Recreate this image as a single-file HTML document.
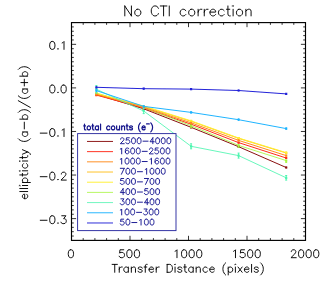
<!DOCTYPE html>
<html><head><meta charset="utf-8"><title>No CTI correction</title>
<style>html,body{margin:0;padding:0;background:#fff;}body{width:327px;height:286px;overflow:hidden;}svg{display:block;}</style></head><body>
<svg width="327" height="286" viewBox="0 0 327 286">
<rect x="0" y="0" width="327" height="286" fill="#ffffff"/>
<defs><filter id="soft" x="0" y="0" width="327" height="286" filterUnits="userSpaceOnUse"><feGaussianBlur stdDeviation="0.36"/></filter></defs>
<g filter="url(#soft)">
<g fill="none" stroke-width="1.0" stroke-linejoin="round">
<polyline points="96.4,94.4 143.7,108.8 191.1,127.3 238.6,146.7 286.2,167.5" stroke="#8a1010"/>
<path d="M96.4 93.8V95.0M143.7 108.2V109.4M191.1 126.5V128.1M238.6 145.9V147.5M286.2 166.5V168.5" stroke="#8a1010" stroke-width="1.0"/>
<path d="M95.3 93.3h2.2v2.2h-2.2zM142.6 107.7h2.2v2.2h-2.2zM190.0 126.2h2.2v2.2h-2.2zM237.5 145.6h2.2v2.2h-2.2zM285.1 166.4h2.2v2.2h-2.2z" fill="#8a1010" stroke="none"/>
<polyline points="96.4,95.1 143.7,108.0 191.1,124.2 238.6,142.6 286.2,158.0" stroke="#ff2a1a"/>
<path d="M96.4 94.6V95.6M143.7 107.5V108.5M191.1 123.6V124.8M238.6 141.8V143.4M286.2 157.0V159.0" stroke="#ff2a1a" stroke-width="1.0"/>
<path d="M95.3 94.0h2.2v2.2h-2.2zM142.6 106.9h2.2v2.2h-2.2zM190.0 123.1h2.2v2.2h-2.2zM237.5 141.5h2.2v2.2h-2.2zM285.1 156.9h2.2v2.2h-2.2z" fill="#ff2a1a" stroke="none"/>
<polyline points="96.4,93.0 143.7,107.4 191.1,125.7 238.6,145.4 286.2,160.6" stroke="#a6f53c" stroke-width="0.85"/>
<path d="M96.4 92.2V93.8M143.7 106.4V108.4M191.1 124.8V127.7M190.1 127.7h2M238.6 144.5V147.3M237.6 147.3h2M286.2 159.7V162.4M285.2 162.4h2" stroke="#a6f53c" stroke-width="1.0"/>
<path d="M95.3 91.9h2.2v2.2h-2.2zM142.6 106.3h2.2v2.2h-2.2zM190.0 124.6h2.2v2.2h-2.2zM237.5 144.3h2.2v2.2h-2.2zM285.1 159.5h2.2v2.2h-2.2z" fill="#a6f53c" stroke="none"/>
<polyline points="96.4,93.9 143.7,106.5 191.1,121.3 238.6,138.4 286.2,153.0" stroke="#ffc020"/>
<path d="M96.4 93.4V94.4M143.7 106.0V107.0M191.1 120.7V121.9M238.6 137.6V139.2M286.2 152.0V154.0" stroke="#ffc020" stroke-width="1.0"/>
<path d="M95.3 92.8h2.2v2.2h-2.2zM142.6 105.4h2.2v2.2h-2.2zM190.0 120.2h2.2v2.2h-2.2zM237.5 137.3h2.2v2.2h-2.2zM285.1 151.9h2.2v2.2h-2.2z" fill="#ffc020" stroke="none"/>
<polyline points="96.4,93.5 143.7,106.0 191.1,120.8 238.6,138.0 286.2,152.6" stroke="#fff030"/>
<path d="M96.4 93.0V94.0M143.7 105.5V106.5M191.1 120.0V121.6M238.6 137.0V139.0M286.2 151.4V153.8" stroke="#fff030" stroke-width="1.0"/>
<path d="M95.3 92.4h2.2v2.2h-2.2zM142.6 104.9h2.2v2.2h-2.2zM190.0 119.7h2.2v2.2h-2.2zM237.5 136.9h2.2v2.2h-2.2zM285.1 151.5h2.2v2.2h-2.2z" fill="#fff030" stroke="none"/>
<polyline points="96.4,94.4 143.7,107.3 191.1,122.8 238.6,140.4 286.2,155.6" stroke="#ff8a1a"/>
<path d="M96.4 93.9V94.9M143.7 106.8V107.8M191.1 122.2V123.4M238.6 139.6V141.2M286.2 154.6V156.6" stroke="#ff8a1a" stroke-width="1.0"/>
<path d="M95.3 93.3h2.2v2.2h-2.2zM142.6 106.2h2.2v2.2h-2.2zM190.0 121.7h2.2v2.2h-2.2zM237.5 139.3h2.2v2.2h-2.2zM285.1 154.5h2.2v2.2h-2.2z" fill="#ff8a1a" stroke="none"/>
<polyline points="96.4,89.3 143.7,111.0 191.1,146.3 238.6,155.6 286.2,177.8" stroke="#4df5b0" stroke-width="0.85"/>
<path d="M96.4 85.5V93.1M95.4 93.1h2M95.4 85.5h2M143.7 108.4V113.6M142.7 113.6h2M142.7 108.4h2M191.1 143.8V148.8M190.1 148.8h2M190.1 143.8h2M238.6 153.1V158.1M237.6 158.1h2M237.6 153.1h2M286.2 175.5V180.1M285.2 180.1h2M285.2 175.5h2" stroke="#4df5b0" stroke-width="1.0"/>
<path d="M95.3 88.2h2.2v2.2h-2.2zM142.6 109.9h2.2v2.2h-2.2zM190.0 145.2h2.2v2.2h-2.2zM237.5 154.5h2.2v2.2h-2.2zM285.1 176.7h2.2v2.2h-2.2z" fill="#4df5b0" stroke="none"/>
<polyline points="96.4,90.6 143.7,106.4 191.1,112.4 238.6,119.7 286.2,128.6" stroke="#1fb4ff"/>
<path d="M96.4 89.2V92.0M143.7 105.0V107.8M191.1 111.2V113.6M238.6 118.5V120.9M286.2 127.2V130.0" stroke="#1fb4ff" stroke-width="1.0"/>
<path d="M95.3 89.5h2.2v2.2h-2.2zM142.6 105.3h2.2v2.2h-2.2zM190.0 111.3h2.2v2.2h-2.2zM237.5 118.6h2.2v2.2h-2.2zM285.1 127.5h2.2v2.2h-2.2z" fill="#1fb4ff" stroke="none"/>
<polyline points="96.4,87.3 143.7,88.7 191.1,89.1 238.6,90.5 286.2,93.9" stroke="#2222d8"/>
<path d="M96.4 86.5V88.1M143.7 87.9V89.5M191.1 88.3V89.9M238.6 89.7V91.3M286.2 93.1V94.7" stroke="#2222d8" stroke-width="1.0"/>
<path d="M95.3 86.2h2.2v2.2h-2.2zM142.6 87.6h2.2v2.2h-2.2zM190.0 88.0h2.2v2.2h-2.2zM237.5 89.4h2.2v2.2h-2.2zM285.1 92.8h2.2v2.2h-2.2z" fill="#2222d8" stroke="none"/>
</g>
<rect x="77.6" y="133.6" width="98.4" height="97.0" fill="#ffffff" stroke="#2c2ca0" stroke-width="0.95"/>
<g fill="none" stroke="#1a1a92" stroke-width="0.98" stroke-linecap="round" stroke-linejoin="round">
<path d="M84.49 124.01L84.49 128.78L84.75 129.62L85.28 129.90L85.81 129.90M83.70 125.97L85.55 125.97M88.45 125.97L87.92 126.25L87.39 126.81L87.13 127.66L87.13 128.22L87.39 129.06L87.92 129.62L88.45 129.90L89.24 129.90L89.76 129.62L90.29 129.06L90.56 128.22L90.56 127.66L90.29 126.81L89.76 126.25L89.24 125.97L88.45 125.97M92.66 124.01L92.66 128.78L92.93 129.62L93.46 129.90L93.98 129.90M91.87 125.97L93.72 125.97M98.47 125.97L98.47 129.90M98.47 126.81L97.94 126.25L97.41 125.97L96.62 125.97L96.09 126.25L95.57 126.81L95.30 127.66L95.30 128.22L95.57 129.06L96.09 129.62L96.62 129.90L97.41 129.90L97.94 129.62L98.47 129.06M100.57 124.01L100.57 129.90M109.80 126.81L109.28 126.25L108.75 125.97L107.96 125.97L107.43 126.25L106.90 126.81L106.64 127.66L106.64 128.22L106.90 129.06L107.43 129.62L107.96 129.90L108.75 129.90L109.28 129.62L109.80 129.06M112.70 125.97L112.18 126.25L111.65 126.81L111.39 127.66L111.39 128.22L111.65 129.06L112.18 129.62L112.70 129.90L113.49 129.90L114.02 129.62L114.55 129.06L114.81 128.22L114.81 127.66L114.55 126.81L114.02 126.25L113.49 125.97L112.70 125.97M116.66 125.97L116.66 128.78L116.92 129.62L117.45 129.90L118.24 129.90L118.77 129.62L119.56 128.78M119.56 125.97L119.56 129.90M121.67 125.97L121.67 129.90M121.67 127.09L122.46 126.25L122.99 125.97L123.78 125.97L124.31 126.25L124.57 127.09L124.57 129.90M126.94 124.01L126.94 128.78L127.21 129.62L127.73 129.90L128.26 129.90M126.15 125.97L128.00 125.97M132.48 126.81L132.22 126.25L131.42 125.97L130.63 125.97L129.84 126.25L129.58 126.81L129.84 127.38L130.37 127.66L131.69 127.94L132.22 128.22L132.48 128.78L132.48 129.06L132.22 129.62L131.42 129.90L130.63 129.90L129.84 129.62L129.58 129.06M140.39 122.89L139.86 123.45L139.33 124.29L138.81 125.41L138.54 126.81L138.54 127.94L138.81 129.34L139.33 130.46L139.86 131.30L140.39 131.86M141.97 127.66L145.14 127.66L145.14 127.09L144.87 126.53L144.61 126.25L144.08 125.97L143.29 125.97L142.76 126.25L142.23 126.81L141.97 127.66L141.97 128.22L142.23 129.06L142.76 129.62L143.29 129.90L144.08 129.90L144.61 129.62L145.14 129.06M146.54 123.95L149.29 123.95M150.69 122.89L151.22 123.45L151.75 124.29L152.28 125.41L152.54 126.81L152.54 127.94L152.28 129.34L151.75 130.46L151.22 131.30L150.69 131.86" stroke="#12128a" stroke-width="1.2"/>
<path d="M87 141.45H113" stroke="#8a1010" stroke-width="0.95" stroke-linecap="butt"/>
<path d="M120.58 139.21L120.58 138.93L120.86 138.37L121.14 138.09L121.70 137.81L122.82 137.81L123.39 138.09L123.67 138.37L123.95 138.93L123.95 139.49L123.67 140.05L123.11 140.89L120.30 143.70L124.23 143.70M129.28 137.81L126.47 137.81L126.19 140.33L126.47 140.05L127.31 139.77L128.15 139.77L129.00 140.05L129.56 140.61L129.84 141.46L129.84 142.02L129.56 142.86L129.00 143.42L128.15 143.70L127.31 143.70L126.47 143.42L126.19 143.14L125.91 142.58M133.20 137.81L132.36 138.09L131.80 138.93L131.52 140.33L131.52 141.18L131.80 142.58L132.36 143.42L133.20 143.70L133.76 143.70L134.61 143.42L135.17 142.58L135.45 141.18L135.45 140.33L135.17 138.93L134.61 138.09L133.76 137.81L133.20 137.81M138.81 137.81L137.97 138.09L137.41 138.93L137.13 140.33L137.13 141.18L137.41 142.58L137.97 143.42L138.81 143.70L139.37 143.70L140.22 143.42L140.78 142.58L141.06 141.18L141.06 140.33L140.78 138.93L140.22 138.09L139.37 137.81L138.81 137.81M143.02 141.18L148.07 141.18M152.84 137.81L150.03 141.74L154.24 141.74M152.84 137.81L152.84 143.70M157.33 137.81L156.48 138.09L155.92 138.93L155.64 140.33L155.64 141.18L155.92 142.58L156.48 143.42L157.33 143.70L157.89 143.70L158.73 143.42L159.29 142.58L159.57 141.18L159.57 140.33L159.29 138.93L158.73 138.09L157.89 137.81L157.33 137.81M162.94 137.81L162.09 138.09L161.53 138.93L161.25 140.33L161.25 141.18L161.53 142.58L162.09 143.42L162.94 143.70L163.50 143.70L164.34 143.42L164.90 142.58L165.18 141.18L165.18 140.33L164.90 138.93L164.34 138.09L163.50 137.81L162.94 137.81M168.55 137.81L167.70 138.09L167.14 138.93L166.86 140.33L166.86 141.18L167.14 142.58L167.70 143.42L168.55 143.70L169.11 143.70L169.95 143.42L170.51 142.58L170.79 141.18L170.79 140.33L170.51 138.93L169.95 138.09L169.11 137.81L168.55 137.81"/>
<path d="M87 151.64H113" stroke="#ff2a1a" stroke-width="0.95" stroke-linecap="butt"/>
<path d="M120.30 149.10L120.86 148.82L121.70 147.98L121.70 153.87M128.72 148.82L128.43 148.26L127.59 147.98L127.03 147.98L126.19 148.26L125.63 149.10L125.35 150.50L125.35 151.91L125.63 153.03L126.19 153.59L127.03 153.87L127.31 153.87L128.15 153.59L128.72 153.03L129.00 152.19L129.00 151.91L128.72 151.06L128.15 150.50L127.31 150.22L127.03 150.22L126.19 150.50L125.63 151.06L125.35 151.91M132.36 147.98L131.52 148.26L130.96 149.10L130.68 150.50L130.68 151.35L130.96 152.75L131.52 153.59L132.36 153.87L132.92 153.87L133.76 153.59L134.32 152.75L134.61 151.35L134.61 150.50L134.32 149.10L133.76 148.26L132.92 147.98L132.36 147.98M137.97 147.98L137.13 148.26L136.57 149.10L136.29 150.50L136.29 151.35L136.57 152.75L137.13 153.59L137.97 153.87L138.53 153.87L139.37 153.59L139.94 152.75L140.22 151.35L140.22 150.50L139.94 149.10L139.37 148.26L138.53 147.98L137.97 147.98M142.18 151.35L147.23 151.35M149.47 149.38L149.47 149.10L149.75 148.54L150.03 148.26L150.59 147.98L151.72 147.98L152.28 148.26L152.56 148.54L152.84 149.10L152.84 149.66L152.56 150.22L152.00 151.06L149.19 153.87L153.12 153.87M158.17 147.98L155.36 147.98L155.08 150.50L155.36 150.22L156.20 149.94L157.05 149.94L157.89 150.22L158.45 150.78L158.73 151.63L158.73 152.19L158.45 153.03L157.89 153.59L157.05 153.87L156.20 153.87L155.36 153.59L155.08 153.31L154.80 152.75M162.09 147.98L161.25 148.26L160.69 149.10L160.41 150.50L160.41 151.35L160.69 152.75L161.25 153.59L162.09 153.87L162.66 153.87L163.50 153.59L164.06 152.75L164.34 151.35L164.34 150.50L164.06 149.10L163.50 148.26L162.66 147.98L162.09 147.98M167.70 147.98L166.86 148.26L166.30 149.10L166.02 150.50L166.02 151.35L166.30 152.75L166.86 153.59L167.70 153.87L168.27 153.87L169.11 153.59L169.67 152.75L169.95 151.35L169.95 150.50L169.67 149.10L169.11 148.26L168.27 147.98L167.70 147.98"/>
<path d="M87 161.83H113" stroke="#ff8a1a" stroke-width="0.95" stroke-linecap="butt"/>
<path d="M120.30 159.27L120.86 158.99L121.70 158.15L121.70 164.04M126.75 158.15L125.91 158.43L125.35 159.27L125.07 160.67L125.07 161.52L125.35 162.92L125.91 163.76L126.75 164.04L127.31 164.04L128.15 163.76L128.72 162.92L129.00 161.52L129.00 160.67L128.72 159.27L128.15 158.43L127.31 158.15L126.75 158.15M132.36 158.15L131.52 158.43L130.96 159.27L130.68 160.67L130.68 161.52L130.96 162.92L131.52 163.76L132.36 164.04L132.92 164.04L133.76 163.76L134.32 162.92L134.61 161.52L134.61 160.67L134.32 159.27L133.76 158.43L132.92 158.15L132.36 158.15M137.97 158.15L137.13 158.43L136.57 159.27L136.29 160.67L136.29 161.52L136.57 162.92L137.13 163.76L137.97 164.04L138.53 164.04L139.37 163.76L139.94 162.92L140.22 161.52L140.22 160.67L139.94 159.27L139.37 158.43L138.53 158.15L137.97 158.15M142.18 161.52L147.23 161.52M150.03 159.27L150.59 158.99L151.44 158.15L151.44 164.04M158.45 158.99L158.17 158.43L157.33 158.15L156.76 158.15L155.92 158.43L155.36 159.27L155.08 160.67L155.08 162.08L155.36 163.20L155.92 163.76L156.76 164.04L157.05 164.04L157.89 163.76L158.45 163.20L158.73 162.36L158.73 162.08L158.45 161.23L157.89 160.67L157.05 160.39L156.76 160.39L155.92 160.67L155.36 161.23L155.08 162.08M162.09 158.15L161.25 158.43L160.69 159.27L160.41 160.67L160.41 161.52L160.69 162.92L161.25 163.76L162.09 164.04L162.66 164.04L163.50 163.76L164.06 162.92L164.34 161.52L164.34 160.67L164.06 159.27L163.50 158.43L162.66 158.15L162.09 158.15M167.70 158.15L166.86 158.43L166.30 159.27L166.02 160.67L166.02 161.52L166.30 162.92L166.86 163.76L167.70 164.04L168.27 164.04L169.11 163.76L169.67 162.92L169.95 161.52L169.95 160.67L169.67 159.27L169.11 158.43L168.27 158.15L167.70 158.15"/>
<path d="M87 172.02H113" stroke="#ffc020" stroke-width="0.95" stroke-linecap="butt"/>
<path d="M124.23 168.32L121.42 174.21M120.30 168.32L124.23 168.32M127.59 168.32L126.75 168.60L126.19 169.44L125.91 170.84L125.91 171.69L126.19 173.09L126.75 173.93L127.59 174.21L128.15 174.21L129.00 173.93L129.56 173.09L129.84 171.69L129.84 170.84L129.56 169.44L129.00 168.60L128.15 168.32L127.59 168.32M133.20 168.32L132.36 168.60L131.80 169.44L131.52 170.84L131.52 171.69L131.80 173.09L132.36 173.93L133.20 174.21L133.76 174.21L134.61 173.93L135.17 173.09L135.45 171.69L135.45 170.84L135.17 169.44L134.61 168.60L133.76 168.32L133.20 168.32M137.41 171.69L142.46 171.69M145.26 169.44L145.83 169.16L146.67 168.32L146.67 174.21M151.72 168.32L150.87 168.60L150.31 169.44L150.03 170.84L150.03 171.69L150.31 173.09L150.87 173.93L151.72 174.21L152.28 174.21L153.12 173.93L153.68 173.09L153.96 171.69L153.96 170.84L153.68 169.44L153.12 168.60L152.28 168.32L151.72 168.32M157.33 168.32L156.48 168.60L155.92 169.44L155.64 170.84L155.64 171.69L155.92 173.09L156.48 173.93L157.33 174.21L157.89 174.21L158.73 173.93L159.29 173.09L159.57 171.69L159.57 170.84L159.29 169.44L158.73 168.60L157.89 168.32L157.33 168.32M162.94 168.32L162.09 168.60L161.53 169.44L161.25 170.84L161.25 171.69L161.53 173.09L162.09 173.93L162.94 174.21L163.50 174.21L164.34 173.93L164.90 173.09L165.18 171.69L165.18 170.84L164.90 169.44L164.34 168.60L163.50 168.32L162.94 168.32"/>
<path d="M87 182.21H113" stroke="#fff030" stroke-width="0.95" stroke-linecap="butt"/>
<path d="M123.67 178.49L120.86 178.49L120.58 181.01L120.86 180.73L121.70 180.45L122.54 180.45L123.39 180.73L123.95 181.29L124.23 182.14L124.23 182.70L123.95 183.54L123.39 184.10L122.54 184.38L121.70 184.38L120.86 184.10L120.58 183.82L120.30 183.26M127.59 178.49L126.75 178.77L126.19 179.61L125.91 181.01L125.91 181.86L126.19 183.26L126.75 184.10L127.59 184.38L128.15 184.38L129.00 184.10L129.56 183.26L129.84 181.86L129.84 181.01L129.56 179.61L129.00 178.77L128.15 178.49L127.59 178.49M133.20 178.49L132.36 178.77L131.80 179.61L131.52 181.01L131.52 181.86L131.80 183.26L132.36 184.10L133.20 184.38L133.76 184.38L134.61 184.10L135.17 183.26L135.45 181.86L135.45 181.01L135.17 179.61L134.61 178.77L133.76 178.49L133.20 178.49M137.41 181.86L142.46 181.86M148.35 178.49L145.54 184.38M144.42 178.49L148.35 178.49M151.72 178.49L150.87 178.77L150.31 179.61L150.03 181.01L150.03 181.86L150.31 183.26L150.87 184.10L151.72 184.38L152.28 184.38L153.12 184.10L153.68 183.26L153.96 181.86L153.96 181.01L153.68 179.61L153.12 178.77L152.28 178.49L151.72 178.49M157.33 178.49L156.48 178.77L155.92 179.61L155.64 181.01L155.64 181.86L155.92 183.26L156.48 184.10L157.33 184.38L157.89 184.38L158.73 184.10L159.29 183.26L159.57 181.86L159.57 181.01L159.29 179.61L158.73 178.77L157.89 178.49L157.33 178.49"/>
<path d="M87 192.40H113" stroke="#a6f53c" stroke-width="0.8" stroke-linecap="butt"/>
<path d="M123.11 188.66L120.30 192.59L124.51 192.59M123.11 188.66L123.11 194.55M127.59 188.66L126.75 188.94L126.19 189.78L125.91 191.18L125.91 192.03L126.19 193.43L126.75 194.27L127.59 194.55L128.15 194.55L129.00 194.27L129.56 193.43L129.84 192.03L129.84 191.18L129.56 189.78L129.00 188.94L128.15 188.66L127.59 188.66M133.20 188.66L132.36 188.94L131.80 189.78L131.52 191.18L131.52 192.03L131.80 193.43L132.36 194.27L133.20 194.55L133.76 194.55L134.61 194.27L135.17 193.43L135.45 192.03L135.45 191.18L135.17 189.78L134.61 188.94L133.76 188.66L133.20 188.66M137.41 192.03L142.46 192.03M147.79 188.66L144.98 188.66L144.70 191.18L144.98 190.90L145.83 190.62L146.67 190.62L147.51 190.90L148.07 191.46L148.35 192.31L148.35 192.87L148.07 193.71L147.51 194.27L146.67 194.55L145.83 194.55L144.98 194.27L144.70 193.99L144.42 193.43M151.72 188.66L150.87 188.94L150.31 189.78L150.03 191.18L150.03 192.03L150.31 193.43L150.87 194.27L151.72 194.55L152.28 194.55L153.12 194.27L153.68 193.43L153.96 192.03L153.96 191.18L153.68 189.78L153.12 188.94L152.28 188.66L151.72 188.66M157.33 188.66L156.48 188.94L155.92 189.78L155.64 191.18L155.64 192.03L155.92 193.43L156.48 194.27L157.33 194.55L157.89 194.55L158.73 194.27L159.29 193.43L159.57 192.03L159.57 191.18L159.29 189.78L158.73 188.94L157.89 188.66L157.33 188.66"/>
<path d="M87 202.59H113" stroke="#4df5b0" stroke-width="0.8" stroke-linecap="butt"/>
<path d="M120.86 198.83L123.95 198.83L122.26 201.07L123.11 201.07L123.67 201.35L123.95 201.63L124.23 202.48L124.23 203.04L123.95 203.88L123.39 204.44L122.54 204.72L121.70 204.72L120.86 204.44L120.58 204.16L120.30 203.60M127.59 198.83L126.75 199.11L126.19 199.95L125.91 201.35L125.91 202.20L126.19 203.60L126.75 204.44L127.59 204.72L128.15 204.72L129.00 204.44L129.56 203.60L129.84 202.20L129.84 201.35L129.56 199.95L129.00 199.11L128.15 198.83L127.59 198.83M133.20 198.83L132.36 199.11L131.80 199.95L131.52 201.35L131.52 202.20L131.80 203.60L132.36 204.44L133.20 204.72L133.76 204.72L134.61 204.44L135.17 203.60L135.45 202.20L135.45 201.35L135.17 199.95L134.61 199.11L133.76 198.83L133.20 198.83M137.41 202.20L142.46 202.20M147.23 198.83L144.42 202.76L148.63 202.76M147.23 198.83L147.23 204.72M151.72 198.83L150.87 199.11L150.31 199.95L150.03 201.35L150.03 202.20L150.31 203.60L150.87 204.44L151.72 204.72L152.28 204.72L153.12 204.44L153.68 203.60L153.96 202.20L153.96 201.35L153.68 199.95L153.12 199.11L152.28 198.83L151.72 198.83M157.33 198.83L156.48 199.11L155.92 199.95L155.64 201.35L155.64 202.20L155.92 203.60L156.48 204.44L157.33 204.72L157.89 204.72L158.73 204.44L159.29 203.60L159.57 202.20L159.57 201.35L159.29 199.95L158.73 199.11L157.89 198.83L157.33 198.83"/>
<path d="M87 212.78H113" stroke="#1fb4ff" stroke-width="0.95" stroke-linecap="butt"/>
<path d="M120.30 210.12L120.86 209.84L121.70 209.00L121.70 214.89M126.75 209.00L125.91 209.28L125.35 210.12L125.07 211.52L125.07 212.37L125.35 213.77L125.91 214.61L126.75 214.89L127.31 214.89L128.15 214.61L128.72 213.77L129.00 212.37L129.00 211.52L128.72 210.12L128.15 209.28L127.31 209.00L126.75 209.00M132.36 209.00L131.52 209.28L130.96 210.12L130.68 211.52L130.68 212.37L130.96 213.77L131.52 214.61L132.36 214.89L132.92 214.89L133.76 214.61L134.32 213.77L134.61 212.37L134.61 211.52L134.32 210.12L133.76 209.28L132.92 209.00L132.36 209.00M136.57 212.37L141.62 212.37M144.14 209.00L147.23 209.00L145.54 211.24L146.39 211.24L146.95 211.52L147.23 211.80L147.51 212.65L147.51 213.21L147.23 214.05L146.67 214.61L145.83 214.89L144.98 214.89L144.14 214.61L143.86 214.33L143.58 213.77M150.87 209.00L150.03 209.28L149.47 210.12L149.19 211.52L149.19 212.37L149.47 213.77L150.03 214.61L150.87 214.89L151.44 214.89L152.28 214.61L152.84 213.77L153.12 212.37L153.12 211.52L152.84 210.12L152.28 209.28L151.44 209.00L150.87 209.00M156.48 209.00L155.64 209.28L155.08 210.12L154.80 211.52L154.80 212.37L155.08 213.77L155.64 214.61L156.48 214.89L157.05 214.89L157.89 214.61L158.45 213.77L158.73 212.37L158.73 211.52L158.45 210.12L157.89 209.28L157.05 209.00L156.48 209.00"/>
<path d="M87 222.97H113" stroke="#2222d8" stroke-width="0.95" stroke-linecap="butt"/>
<path d="M123.67 219.17L120.86 219.17L120.58 221.69L120.86 221.41L121.70 221.13L122.54 221.13L123.39 221.41L123.95 221.97L124.23 222.82L124.23 223.38L123.95 224.22L123.39 224.78L122.54 225.06L121.70 225.06L120.86 224.78L120.58 224.50L120.30 223.94M127.59 219.17L126.75 219.45L126.19 220.29L125.91 221.69L125.91 222.54L126.19 223.94L126.75 224.78L127.59 225.06L128.15 225.06L129.00 224.78L129.56 223.94L129.84 222.54L129.84 221.69L129.56 220.29L129.00 219.45L128.15 219.17L127.59 219.17M131.80 222.54L136.85 222.54M139.65 220.29L140.22 220.01L141.06 219.17L141.06 225.06M146.11 219.17L145.26 219.45L144.70 220.29L144.42 221.69L144.42 222.54L144.70 223.94L145.26 224.78L146.11 225.06L146.67 225.06L147.51 224.78L148.07 223.94L148.35 222.54L148.35 221.69L148.07 220.29L147.51 219.45L146.67 219.17L146.11 219.17M151.72 219.17L150.87 219.45L150.31 220.29L150.03 221.69L150.03 222.54L150.31 223.94L150.87 224.78L151.72 225.06L152.28 225.06L153.12 224.78L153.68 223.94L153.96 222.54L153.96 221.69L153.68 220.29L153.12 219.45L152.28 219.17L151.72 219.17"/>
</g>
<g stroke="#000" stroke-width="0.8" fill="none">
<rect x="71.5" y="22.6" width="234.0" height="217.8" stroke-width="1.15"/>
<path d="M83.20 240.40v-2.3M83.20 22.55v2.3M94.90 240.40v-2.3M94.90 22.55v2.3M106.60 240.40v-2.3M106.60 22.55v2.3M118.30 240.40v-2.3M118.30 22.55v2.3M130.00 240.40v-4.6M130.00 22.55v4.6M141.70 240.40v-2.3M141.70 22.55v2.3M153.40 240.40v-2.3M153.40 22.55v2.3M165.10 240.40v-2.3M165.10 22.55v2.3M176.80 240.40v-2.3M176.80 22.55v2.3M188.50 240.40v-4.6M188.50 22.55v4.6M200.20 240.40v-2.3M200.20 22.55v2.3M211.90 240.40v-2.3M211.90 22.55v2.3M223.60 240.40v-2.3M223.60 22.55v2.3M235.30 240.40v-2.3M235.30 22.55v2.3M247.00 240.40v-4.6M247.00 22.55v4.6M258.70 240.40v-2.3M258.70 22.55v2.3M270.40 240.40v-2.3M270.40 22.55v2.3M282.10 240.40v-2.3M282.10 22.55v2.3M293.80 240.40v-2.3M293.80 22.55v2.3M71.50 236.04h2.3M305.50 236.04h-2.3M71.50 231.69h2.3M305.50 231.69h-2.3M71.50 227.33h2.3M305.50 227.33h-2.3M71.50 222.97h2.3M305.50 222.97h-2.3M71.50 218.61h4.6M305.50 218.61h-4.6M71.50 214.26h2.3M305.50 214.26h-2.3M71.50 209.90h2.3M305.50 209.90h-2.3M71.50 205.54h2.3M305.50 205.54h-2.3M71.50 201.19h2.3M305.50 201.19h-2.3M71.50 196.83h2.3M305.50 196.83h-2.3M71.50 192.47h2.3M305.50 192.47h-2.3M71.50 188.12h2.3M305.50 188.12h-2.3M71.50 183.76h2.3M305.50 183.76h-2.3M71.50 179.40h2.3M305.50 179.40h-2.3M71.50 175.04h4.6M305.50 175.04h-4.6M71.50 170.69h2.3M305.50 170.69h-2.3M71.50 166.33h2.3M305.50 166.33h-2.3M71.50 161.97h2.3M305.50 161.97h-2.3M71.50 157.62h2.3M305.50 157.62h-2.3M71.50 153.26h2.3M305.50 153.26h-2.3M71.50 148.90h2.3M305.50 148.90h-2.3M71.50 144.55h2.3M305.50 144.55h-2.3M71.50 140.19h2.3M305.50 140.19h-2.3M71.50 135.83h2.3M305.50 135.83h-2.3M71.50 131.47h4.6M305.50 131.47h-4.6M71.50 127.12h2.3M305.50 127.12h-2.3M71.50 122.76h2.3M305.50 122.76h-2.3M71.50 118.40h2.3M305.50 118.40h-2.3M71.50 114.05h2.3M305.50 114.05h-2.3M71.50 109.69h2.3M305.50 109.69h-2.3M71.50 105.33h2.3M305.50 105.33h-2.3M71.50 100.98h2.3M305.50 100.98h-2.3M71.50 96.62h2.3M305.50 96.62h-2.3M71.50 92.26h2.3M305.50 92.26h-2.3M71.50 87.90h4.6M305.50 87.90h-4.6M71.50 83.55h2.3M305.50 83.55h-2.3M71.50 79.19h2.3M305.50 79.19h-2.3M71.50 74.83h2.3M305.50 74.83h-2.3M71.50 70.48h2.3M305.50 70.48h-2.3M71.50 66.12h2.3M305.50 66.12h-2.3M71.50 61.76h2.3M305.50 61.76h-2.3M71.50 57.41h2.3M305.50 57.41h-2.3M71.50 53.05h2.3M305.50 53.05h-2.3M71.50 48.69h2.3M305.50 48.69h-2.3M71.50 44.33h4.6M305.50 44.33h-4.6M71.50 39.98h2.3M305.50 39.98h-2.3M71.50 35.62h2.3M305.50 35.62h-2.3M71.50 31.26h2.3M305.50 31.26h-2.3M71.50 26.91h2.3M305.50 26.91h-2.3"/>
</g>
<g fill="none" stroke="#000" stroke-width="0.95" stroke-linecap="round" stroke-linejoin="round">
<path d="M70.52 249.78L69.39 250.16L68.64 251.29L68.26 253.18L68.26 254.31L68.64 256.19L69.39 257.32L70.52 257.70L71.28 257.70L72.41 257.32L73.16 256.19L73.54 254.31L73.54 253.18L73.16 251.29L72.41 250.16L71.28 249.78L70.52 249.78"/>
<path d="M123.75 249.78L119.98 249.78L119.60 253.18L119.98 252.80L121.11 252.42L122.24 252.42L123.37 252.80L124.12 253.55L124.50 254.68L124.50 255.44L124.12 256.57L123.37 257.32L122.24 257.70L121.11 257.70L119.98 257.32L119.60 256.95L119.22 256.19M129.02 249.78L127.89 250.16L127.14 251.29L126.76 253.18L126.76 254.31L127.14 256.19L127.89 257.32L129.02 257.70L129.78 257.70L130.91 257.32L131.66 256.19L132.04 254.31L132.04 253.18L131.66 251.29L130.91 250.16L129.78 249.78L129.02 249.78M136.56 249.78L135.43 250.16L134.68 251.29L134.30 253.18L134.30 254.31L134.68 256.19L135.43 257.32L136.56 257.70L137.32 257.70L138.45 257.32L139.20 256.19L139.58 254.31L139.58 253.18L139.20 251.29L138.45 250.16L137.32 249.78L136.56 249.78"/>
<path d="M175.08 251.29L175.84 250.91L176.97 249.78L176.97 257.70M183.75 249.78L182.62 250.16L181.87 251.29L181.49 253.18L181.49 254.31L181.87 256.19L182.62 257.32L183.75 257.70L184.51 257.70L185.64 257.32L186.39 256.19L186.77 254.31L186.77 253.18L186.39 251.29L185.64 250.16L184.51 249.78L183.75 249.78M191.29 249.78L190.16 250.16L189.41 251.29L189.03 253.18L189.03 254.31L189.41 256.19L190.16 257.32L191.29 257.70L192.05 257.70L193.18 257.32L193.93 256.19L194.31 254.31L194.31 253.18L193.93 251.29L193.18 250.16L192.05 249.78L191.29 249.78M198.83 249.78L197.70 250.16L196.95 251.29L196.57 253.18L196.57 254.31L196.95 256.19L197.70 257.32L198.83 257.70L199.59 257.70L200.72 257.32L201.47 256.19L201.85 254.31L201.85 253.18L201.47 251.29L200.72 250.16L199.59 249.78L198.83 249.78"/>
<path d="M233.58 251.29L234.34 250.91L235.47 249.78L235.47 257.70M244.52 249.78L240.75 249.78L240.37 253.18L240.75 252.80L241.88 252.42L243.01 252.42L244.14 252.80L244.89 253.55L245.27 254.68L245.27 255.44L244.89 256.57L244.14 257.32L243.01 257.70L241.88 257.70L240.75 257.32L240.37 256.95L239.99 256.19M249.79 249.78L248.66 250.16L247.91 251.29L247.53 253.18L247.53 254.31L247.91 256.19L248.66 257.32L249.79 257.70L250.55 257.70L251.68 257.32L252.43 256.19L252.81 254.31L252.81 253.18L252.43 251.29L251.68 250.16L250.55 249.78L249.79 249.78M257.33 249.78L256.20 250.16L255.45 251.29L255.07 253.18L255.07 254.31L255.45 256.19L256.20 257.32L257.33 257.70L258.09 257.70L259.22 257.32L259.97 256.19L260.35 254.31L260.35 253.18L259.97 251.29L259.22 250.16L258.09 249.78L257.33 249.78"/>
<path d="M291.33 251.67L291.33 251.29L291.70 250.54L292.08 250.16L292.84 249.78L294.34 249.78L295.10 250.16L295.47 250.54L295.85 251.29L295.85 252.04L295.47 252.80L294.72 253.93L290.95 257.70L296.23 257.70M300.75 249.78L299.62 250.16L298.87 251.29L298.49 253.18L298.49 254.31L298.87 256.19L299.62 257.32L300.75 257.70L301.51 257.70L302.64 257.32L303.39 256.19L303.77 254.31L303.77 253.18L303.39 251.29L302.64 250.16L301.51 249.78L300.75 249.78M308.29 249.78L307.16 250.16L306.41 251.29L306.03 253.18L306.03 254.31L306.41 256.19L307.16 257.32L308.29 257.70L309.05 257.70L310.18 257.32L310.93 256.19L311.31 254.31L311.31 253.18L310.93 251.29L310.18 250.16L309.05 249.78L308.29 249.78M315.83 249.78L314.70 250.16L313.95 251.29L313.57 253.18L313.57 254.31L313.95 256.19L314.70 257.32L315.83 257.70L316.59 257.70L317.72 257.32L318.47 256.19L318.85 254.31L318.85 253.18L318.47 251.29L317.72 250.16L316.59 249.78L315.83 249.78"/>
<path d="M51.94 41.47L50.81 41.84L50.06 42.98L49.68 44.86L49.68 45.99L50.06 47.88L50.81 49.01L51.94 49.38L52.70 49.38L53.83 49.01L54.58 47.88L54.96 45.99L54.96 44.86L54.58 42.98L53.83 41.84L52.70 41.47L51.94 41.47M57.98 48.63L57.60 49.01L57.98 49.38L58.35 49.01L57.98 48.63M62.12 42.98L62.88 42.60L64.01 41.47L64.01 49.38"/>
<path d="M51.94 85.04L50.81 85.41L50.06 86.55L49.68 88.43L49.68 89.56L50.06 91.45L50.81 92.58L51.94 92.95L52.70 92.95L53.83 92.58L54.58 91.45L54.96 89.56L54.96 88.43L54.58 86.55L53.83 85.41L52.70 85.04L51.94 85.04M57.98 92.20L57.60 92.58L57.98 92.95L58.35 92.58L57.98 92.20M63.25 85.04L62.12 85.41L61.37 86.55L60.99 88.43L60.99 89.56L61.37 91.45L62.12 92.58L63.25 92.95L64.01 92.95L65.14 92.58L65.89 91.45L66.27 89.56L66.27 88.43L65.89 86.55L65.14 85.41L64.01 85.04L63.25 85.04"/>
<path d="M40.26 133.13L47.04 133.13M51.94 128.61L50.81 128.99L50.06 130.12L49.68 132.00L49.68 133.13L50.06 135.02L50.81 136.15L51.94 136.53L52.70 136.53L53.83 136.15L54.58 135.02L54.96 133.13L54.96 132.00L54.58 130.12L53.83 128.99L52.70 128.61L51.94 128.61M57.98 135.77L57.60 136.15L57.98 136.53L58.35 136.15L57.98 135.77M62.12 130.12L62.88 129.74L64.01 128.61L64.01 136.53"/>
<path d="M40.26 176.70L47.04 176.70M51.94 172.18L50.81 172.56L50.06 173.69L49.68 175.57L49.68 176.70L50.06 178.59L50.81 179.72L51.94 180.09L52.70 180.09L53.83 179.72L54.58 178.59L54.96 176.70L54.96 175.57L54.58 173.69L53.83 172.56L52.70 172.18L51.94 172.18M57.98 179.34L57.60 179.72L57.98 180.09L58.35 179.72L57.98 179.34M61.37 174.06L61.37 173.69L61.75 172.93L62.12 172.56L62.88 172.18L64.38 172.18L65.14 172.56L65.52 172.93L65.89 173.69L65.89 174.44L65.52 175.19L64.76 176.32L60.99 180.09L66.27 180.09"/>
<path d="M40.26 220.27L47.04 220.27M51.94 215.75L50.81 216.12L50.06 217.26L49.68 219.14L49.68 220.27L50.06 222.16L50.81 223.29L51.94 223.66L52.70 223.66L53.83 223.29L54.58 222.16L54.96 220.27L54.96 219.14L54.58 217.26L53.83 216.12L52.70 215.75L51.94 215.75M57.98 222.91L57.60 223.29L57.98 223.66L58.35 223.29L57.98 222.91M61.75 215.75L65.89 215.75L63.63 218.76L64.76 218.76L65.52 219.14L65.89 219.52L66.27 220.65L66.27 221.40L65.89 222.53L65.14 223.29L64.01 223.66L62.88 223.66L61.75 223.29L61.37 222.91L60.99 222.16"/>
<path d="M114.74 264.38L114.74 272.30M112.10 264.38L117.38 264.38M119.26 267.02L119.26 272.30M119.26 269.28L119.64 268.15L120.39 267.40L121.15 267.02L122.28 267.02M128.31 267.02L128.31 272.30M128.31 268.15L127.56 267.40L126.80 267.02L125.67 267.02L124.92 267.40L124.16 268.15L123.79 269.28L123.79 270.04L124.16 271.17L124.92 271.92L125.67 272.30L126.80 272.30L127.56 271.92L128.31 271.17M131.33 267.02L131.33 272.30M131.33 268.53L132.46 267.40L133.21 267.02L134.34 267.02L135.10 267.40L135.47 268.53L135.47 272.30M142.26 268.15L141.88 267.40L140.75 267.02L139.62 267.02L138.49 267.40L138.11 268.15L138.49 268.91L139.24 269.28L141.13 269.66L141.88 270.04L142.26 270.79L142.26 271.17L141.88 271.92L140.75 272.30L139.62 272.30L138.49 271.92L138.11 271.17M147.16 264.38L146.41 264.38L145.65 264.76L145.28 265.89L145.28 272.30M144.14 267.02L146.78 267.02M149.05 269.28L153.57 269.28L153.57 268.53L153.19 267.78L152.82 267.40L152.06 267.02L150.93 267.02L150.18 267.40L149.42 268.15L149.05 269.28L149.05 270.04L149.42 271.17L150.18 271.92L150.93 272.30L152.06 272.30L152.82 271.92L153.57 271.17M156.21 267.02L156.21 272.30M156.21 269.28L156.59 268.15L157.34 267.40L158.09 267.02L159.22 267.02M167.14 264.38L167.14 272.30M167.14 264.38L169.78 264.38L170.91 264.76L171.67 265.51L172.04 266.27L172.42 267.40L172.42 269.28L172.04 270.42L171.67 271.17L170.91 271.92L169.78 272.30L167.14 272.30M174.68 264.38L175.06 264.76L175.44 264.38L175.06 264.01L174.68 264.38M175.06 267.02L175.06 272.30M181.84 268.15L181.47 267.40L180.34 267.02L179.21 267.02L178.07 267.40L177.70 268.15L178.07 268.91L178.83 269.28L180.71 269.66L181.47 270.04L181.84 270.79L181.84 271.17L181.47 271.92L180.34 272.30L179.21 272.30L178.07 271.92L177.70 271.17M184.86 264.38L184.86 270.79L185.24 271.92L185.99 272.30L186.75 272.30M183.73 267.02L186.37 267.02M193.16 267.02L193.16 272.30M193.16 268.15L192.40 267.40L191.65 267.02L190.52 267.02L189.76 267.40L189.01 268.15L188.63 269.28L188.63 270.04L189.01 271.17L189.76 271.92L190.52 272.30L191.65 272.30L192.40 271.92L193.16 271.17M196.17 267.02L196.17 272.30M196.17 268.53L197.30 267.40L198.06 267.02L199.19 267.02L199.94 267.40L200.32 268.53L200.32 272.30M207.48 268.15L206.73 267.40L205.97 267.02L204.84 267.02L204.09 267.40L203.33 268.15L202.96 269.28L202.96 270.04L203.33 271.17L204.09 271.92L204.84 272.30L205.97 272.30L206.73 271.92L207.48 271.17M209.74 269.28L214.27 269.28L214.27 268.53L213.89 267.78L213.51 267.40L212.76 267.02L211.63 267.02L210.87 267.40L210.12 268.15L209.74 269.28L209.74 270.04L210.12 271.17L210.87 271.92L211.63 272.30L212.76 272.30L213.51 271.92L214.27 271.17M225.58 262.88L224.82 263.63L224.07 264.76L223.31 266.27L222.94 268.15L222.94 269.66L223.31 271.55L224.07 273.05L224.82 274.19L225.58 274.94M228.22 267.02L228.22 274.94M228.22 268.15L228.97 267.40L229.72 267.02L230.85 267.02L231.61 267.40L232.36 268.15L232.74 269.28L232.74 270.04L232.36 271.17L231.61 271.92L230.85 272.30L229.72 272.30L228.97 271.92L228.22 271.17M235.00 264.38L235.38 264.76L235.76 264.38L235.38 264.01L235.00 264.38M235.38 267.02L235.38 272.30M238.02 267.02L242.16 272.30M242.16 267.02L238.02 272.30M244.43 269.28L248.95 269.28L248.95 268.53L248.57 267.78L248.20 267.40L247.44 267.02L246.31 267.02L245.56 267.40L244.80 268.15L244.43 269.28L244.43 270.04L244.80 271.17L245.56 271.92L246.31 272.30L247.44 272.30L248.20 271.92L248.95 271.17M251.59 264.38L251.59 272.30M258.38 268.15L258.00 267.40L256.87 267.02L255.74 267.02L254.61 267.40L254.23 268.15L254.61 268.91L255.36 269.28L257.25 269.66L258.00 270.04L258.38 270.79L258.38 271.17L258.00 271.92L256.87 272.30L255.74 272.30L254.61 271.92L254.23 271.17M260.64 262.88L261.39 263.63L262.15 264.76L262.90 266.27L263.28 268.15L263.28 269.66L262.90 271.55L262.15 273.05L261.39 274.19L260.64 274.94"/>
<path d="M24.68 198.70L24.68 194.18L23.93 194.18L23.18 194.55L22.80 194.93L22.42 195.68L22.42 196.81L22.80 197.57L23.55 198.32L24.68 198.70L25.44 198.70L26.57 198.32L27.32 197.57L27.70 196.81L27.70 195.68L27.32 194.93L26.57 194.18M19.78 191.54L27.70 191.54M19.78 188.52L27.70 188.52M19.78 185.88L20.16 185.50L19.78 185.13L19.41 185.50L19.78 185.88M22.42 185.50L27.70 185.50M22.42 182.49L30.34 182.49M23.55 182.49L22.80 181.73L22.42 180.98L22.42 179.85L22.80 179.10L23.55 178.34L24.68 177.96L25.44 177.96L26.57 178.34L27.32 179.10L27.70 179.85L27.70 180.98L27.32 181.73L26.57 182.49M19.78 174.95L26.19 174.95L27.32 174.57L27.70 173.82L27.70 173.06M22.42 176.08L22.42 173.44M19.78 171.18L20.16 170.80L19.78 170.42L19.41 170.80L19.78 171.18M22.42 170.80L27.70 170.80M23.55 163.64L22.80 164.39L22.42 165.15L22.42 166.28L22.80 167.03L23.55 167.79L24.68 168.16L25.44 168.16L26.57 167.79L27.32 167.03L27.70 166.28L27.70 165.15L27.32 164.39L26.57 163.64M19.78 161.38L20.16 161.00L19.78 160.62L19.41 161.00L19.78 161.38M22.42 161.00L27.70 161.00M19.78 157.61L26.19 157.61L27.32 157.23L27.70 156.48L27.70 155.72M22.42 158.74L22.42 156.10M22.42 154.21L27.70 151.95M22.42 149.69L27.70 151.95L29.21 152.71L29.96 153.46L30.34 154.21L30.34 154.59M18.27 138.76L19.03 139.51L20.16 140.26L21.67 141.02L23.55 141.40L25.06 141.40L26.95 141.02L28.45 140.26L29.59 139.51L30.34 138.76M22.42 131.97L27.70 131.97M23.55 131.97L22.80 132.72L22.42 133.48L22.42 134.61L22.80 135.36L23.55 136.12L24.68 136.50L25.44 136.50L26.57 136.12L27.32 135.36L27.70 134.61L27.70 133.48L27.32 132.72L26.57 131.97M24.31 128.95L24.31 122.17M19.78 119.15L27.70 119.15M23.55 119.15L22.80 118.40L22.42 117.64L22.42 116.51L22.80 115.76L23.55 115.01L24.68 114.63L25.44 114.63L26.57 115.01L27.32 115.76L27.70 116.51L27.70 117.64L27.32 118.40L26.57 119.15M18.27 112.37L19.03 111.61L20.16 110.86L21.67 110.10L23.55 109.73L25.06 109.73L26.95 110.10L28.45 110.86L29.59 111.61L30.34 112.37M18.27 100.68L30.34 107.47M18.27 95.78L19.03 96.53L20.16 97.29L21.67 98.04L23.55 98.42L25.06 98.42L26.95 98.04L28.45 97.29L29.59 96.53L30.34 95.78M22.42 88.99L27.70 88.99M23.55 88.99L22.80 89.75L22.42 90.50L22.42 91.63L22.80 92.39L23.55 93.14L24.68 93.52L25.44 93.52L26.57 93.14L27.32 92.39L27.70 91.63L27.70 90.50L27.32 89.75L26.57 88.99M20.91 82.58L27.70 82.58M24.31 85.98L24.31 79.19M19.78 76.17L27.70 76.17M23.55 76.17L22.80 75.42L22.42 74.67L22.42 73.54L22.80 72.78L23.55 72.03L24.68 71.65L25.44 71.65L26.57 72.03L27.32 72.78L27.70 73.54L27.70 74.67L27.32 75.42L26.57 76.17M18.27 69.39L19.03 68.63L20.16 67.88L21.67 67.13L23.55 66.75L25.06 66.75L26.95 67.13L28.45 67.88L29.59 68.63L30.34 69.39"/>
<path d="M124.80 5.97L124.80 15.90M124.80 5.97L131.42 15.90M131.42 5.97L131.42 15.90M137.10 9.28L136.15 9.75L135.21 10.70L134.73 12.12L134.73 13.06L135.21 14.48L136.15 15.43L137.10 15.90L138.52 15.90L139.46 15.43L140.41 14.48L140.88 13.06L140.88 12.12L140.41 10.70L139.46 9.75L138.52 9.28L137.10 9.28M158.38 8.33L157.91 7.39L156.96 6.44L156.02 5.97L154.13 5.97L153.18 6.44L152.23 7.39L151.76 8.33L151.29 9.75L151.29 12.12L151.76 13.54L152.23 14.48L153.18 15.43L154.13 15.90L156.02 15.90L156.96 15.43L157.91 14.48L158.38 13.54M163.59 5.97L163.59 15.90M160.28 5.97L166.90 5.97M169.26 5.97L169.26 15.90M185.82 10.70L184.87 9.75L183.93 9.28L182.51 9.28L181.56 9.75L180.61 10.70L180.14 12.12L180.14 13.06L180.61 14.48L181.56 15.43L182.51 15.90L183.93 15.90L184.87 15.43L185.82 14.48M191.02 9.28L190.07 9.75L189.13 10.70L188.66 12.12L188.66 13.06L189.13 14.48L190.07 15.43L191.02 15.90L192.44 15.90L193.38 15.43L194.33 14.48L194.80 13.06L194.80 12.12L194.33 10.70L193.38 9.75L192.44 9.28L191.02 9.28M198.12 9.28L198.12 15.90M198.12 12.12L198.59 10.70L199.53 9.75L200.48 9.28L201.90 9.28M204.26 9.28L204.26 15.90M204.26 12.12L204.74 10.70L205.68 9.75L206.63 9.28L208.05 9.28M209.94 12.12L215.62 12.12L215.62 11.17L215.14 10.22L214.67 9.75L213.72 9.28L212.31 9.28L211.36 9.75L210.41 10.70L209.94 12.12L209.94 13.06L210.41 14.48L211.36 15.43L212.31 15.90L213.72 15.90L214.67 15.43L215.62 14.48M224.13 10.70L223.18 9.75L222.24 9.28L220.82 9.28L219.87 9.75L218.93 10.70L218.45 12.12L218.45 13.06L218.93 14.48L219.87 15.43L220.82 15.90L222.24 15.90L223.18 15.43L224.13 14.48M227.91 5.97L227.91 14.01L228.39 15.43L229.33 15.90L230.28 15.90M226.50 9.28L229.81 9.28M232.64 5.97L233.12 6.44L233.59 5.97L233.12 5.49L232.64 5.97M233.12 9.28L233.12 15.90M238.79 9.28L237.85 9.75L236.90 10.70L236.43 12.12L236.43 13.06L236.90 14.48L237.85 15.43L238.79 15.90L240.21 15.90L241.16 15.43L242.10 14.48L242.58 13.06L242.58 12.12L242.10 10.70L241.16 9.75L240.21 9.28L238.79 9.28M245.89 9.28L245.89 15.90M245.89 11.17L247.31 9.75L248.25 9.28L249.67 9.28L250.62 9.75L251.09 11.17L251.09 15.90"/>
</g>
</g>
</svg></body></html>
